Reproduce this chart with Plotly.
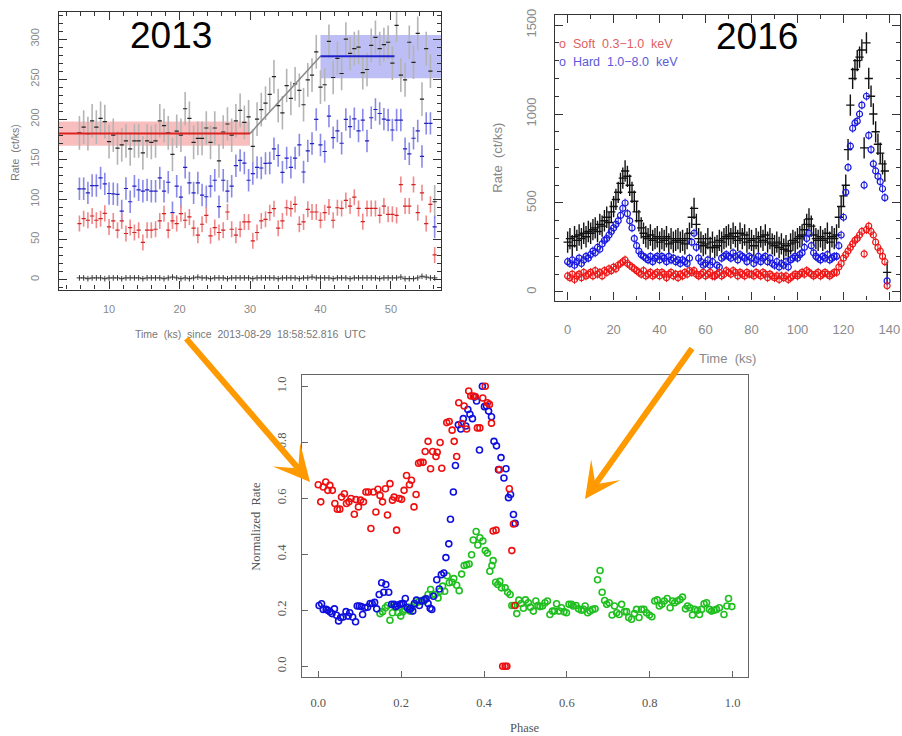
import plotly.graph_objects as go

W, H = 902, 736

# ---------------- 2013 light curve (Time in ks) ----------------
t2013_start = 5.8
t2013_bin = 0.6
total2013 = [183, 190, 182, 198, 190, 201, 197, 172, 180, 164,
             168, 173, 163, 173, 173, 158, 173, 171, 173, 198,
             192, 183, 156, 185, 180, 213, 201, 171, 176, 176,
             189, 171, 189, 148, 184, 194, 180, 198, 211, 196,
             203, 166, 200, 212, 220, 231, 253, 217, 208, 242,
             226, 244, 236, 218, 249, 255, 284, 240, 243, 297,
             252, 276, 257, 300, 282, 288, 290, 258, 262, 292,
             302, 288, 293, 296, 270, 317, 255, 249, 296, 271,
             307, 225, 288, 260, 97]
hard2013 = [113.1, 113.1, 108.1, 117.2, 117.2, 126.7, 119.3, 107.3, 106.9, 106.1,
            85.4, 113.5, 97.0, 116.4, 111.8, 110.2, 111.8, 110.2, 110.2, 126.7,
            110.2, 121.3, 83.4, 116.4, 102.8, 139.9, 120.5, 108.1, 120.5, 105.3,
            103.2, 116.4, 123.8, 90.8, 123.8, 110.2, 116.4, 142.0, 148.6, 145.3,
            123.8, 132.1, 139.9, 139.1, 144.9, 145.3, 163.0, 154.7, 133.7, 151.5,
            139.9, 151.5, 167.9, 134.1, 160.5, 169.6, 199.7, 167.9, 159.7, 203.8,
            177.0, 185.3, 170.0, 199.7, 190.6, 200.5, 185.3, 198.9, 172.9, 201.8,
            212.1, 207.1, 200.1, 198.9, 186.5, 198.9, 198.9, 163.0, 156.8, 176.2,
            185.3, 153.5, 194.8, 194.8, 65.6]
soft2013 = [69.8, 75.9, 73.9, 79.2, 73.9, 75.9, 82.5, 65.6, 73.1, 61.5,
            73.1, 57.4, 64.8, 58.6, 61.5, 46.2, 61.5, 61.5, 62.7, 73.1,
            82.1, 61.5, 73.1, 69.8, 82.1, 73.9, 78.0, 64.0, 55.3, 68.9,
            80.1, 54.5, 64.8, 58.6, 61.5, 84.2, 62.7, 55.3, 62.7, 71.8,
            71.8, 48.3, 58.6, 73.1, 75.1, 83.4, 88.3, 64.0, 73.1, 89.5,
            88.3, 93.7, 68.9, 71.8, 87.5, 84.2, 84.2, 73.9, 83.4, 90.4,
            73.9, 89.5, 88.7, 98.6, 91.6, 102.7, 88.7, 72.2, 88.7, 88.7,
            88.7, 80.1, 91.6, 81.3, 81.3, 80.0, 118.4, 91.6, 91.6, 118.4,
            83.4, 108.1, 69.8, 93.7, 30.6]
bkg2013 = [2, 2, 1, 2, 2, 2, 1, 2, 2, 2,
           1, 2, 2, 2, 2, 1, 2, 2, 2, 2,
           1, 2, 3, 2, 1, 2, 1, 2, 3, 2,
           2, 1, 2, 2, 2, 1, 2, 2, 2, 2,
           2, 1, 2, 2, 2, 2, 2, 1, 2, 2,
           2, 2, 1, 2, 2, 3, 2, 2, 2, 2,
           1, 2, 2, 2, 1, 2, 2, 2, 2, 2,
           2, 1, 2, 2, 2, 2, 3, 1, 1, 1,
           2, 4, 3, 2, 2]
err_total2013, err_hard2013, err_soft2013 = 21, 14, 10
t2013 = [round(t2013_start + t2013_bin * i, 2) for i in range(len(total2013))]

# constant / linear-rise / constant model
low_level, low_lo, low_hi, low_end = 182, 167, 197, 30
high_level, high_lo, high_hi, high_start, high_end = 278.5, 251, 305, 40, 50.5

# ---------------- 2016 light curve ----------------
t2016 = list(range(140))
total2016 = [280, 300, 260, 310, 290, 320, 300, 330, 310, 340,
             330, 350, 360, 340, 380, 370, 400, 420, 390, 450,
             480, 520, 560, 610, 640, 680, 650, 600, 560, 510,
             450, 400, 360, 330, 310, 300, 320, 290, 300, 310,
             280, 300, 290, 310, 270, 300, 280, 290, 300, 280,
             290, 270, 300, 330, 420, 470, 380, 300, 280, 260,
             270, 300, 250, 280, 250, 260, 290, 280, 300, 310,
             320, 300, 330, 310, 290, 330, 300, 320, 280, 300,
             290, 260, 300, 280, 310, 290, 320, 280, 300, 270,
             260, 280, 250, 270, 240, 260, 230, 270, 290, 280,
             300, 310, 320, 350, 380, 410, 370, 320, 300, 290,
             310, 290, 300, 330, 280, 310, 300, 320, 420, 480,
             540, 600, 800, 1050, 1200, 1250, 1300, 1320, 1360, 810,
             1400, 1200, 1100, 1000, 900, 830, 780, 720, 680, 110]
hard2016 = [170, 160, 180, 150, 170, 190, 160, 180, 200, 190,
            210, 230, 220, 250, 240, 270, 290, 300, 320, 340,
            360, 380, 400, 430, 470, 500, 440, 400, 360, 300,
            260, 230, 210, 200, 190, 180, 200, 170, 190, 200,
            180, 200, 190, 170, 200, 180, 190, 170, 180, 160,
            180, 170, 160, 190, 280, 330, 250, 190, 170, 150,
            160, 180, 150, 170, 90, 150, 140, 190, 200, 210,
            200, 190, 220, 200, 180, 210, 200, 190, 170, 200,
            190, 160, 180, 200, 170, 190, 200, 170, 190, 160,
            150, 170, 140, 160, 150, 170, 140, 180, 190, 200,
            190, 210, 220, 250, 300, 330, 260, 220, 200, 190,
            180, 200, 190, 210, 180, 190, 200, 200, 260, 320,
            420, 560, 700, 820, 920, 950, 960, 1000, 1050, 600,
            1100, 880, 800, 720, 680, 650, 620, 580, 530, 62]
soft2016 = [90, 80, 100, 70, 90, 100, 80, 110, 90, 100,
            110, 90, 120, 100, 110, 90, 120, 110, 130, 120,
            140, 130, 150, 160, 170, 180, 160, 150, 140, 130,
            120, 110, 100, 120, 90, 100, 110, 90, 100, 110,
            90, 110, 100, 80, 100, 110, 90, 100, 80, 100,
            90, 110, 100, 120, 110, 120, 100, 90, 100, 110,
            90, 100, 110, 90, 90, 100, 110, 90, 100, 120,
            110, 100, 120, 110, 90, 110, 100, 90, 110, 100,
            100, 90, 110, 100, 90, 110, 100, 80, 100, 90,
            80, 90, 70, 90, 80, 90, 70, 80, 90, 100,
            90, 100, 110, 100, 120, 110, 100, 90, 100, 110,
            90, 100, 110, 100, 90, 100, 110, 110, 140, 160,
            190, 210, 230, 250, 270, 290, 300, 320, 340, 214,
            350, 370, 340, 320, 280, 250, 230, 200, 170, 35]
err_total2016_x, err_total2016_y = 1.8, 60
err_band2016 = 25

# ---------------- folded (phase) light curve ----------------
phase_soft = [0.000, 0.006, 0.012, 0.018, 0.023, 0.028, 0.034, 0.040, 0.046, 0.052,
              0.056, 0.063, 0.068, 0.074, 0.079, 0.087, 0.091, 0.097, 0.102, 0.109,
              0.115, 0.121, 0.127, 0.133, 0.139, 0.144, 0.149, 0.155, 0.162, 0.167,
              0.173, 0.179, 0.183, 0.189, 0.195, 0.201, 0.207, 0.213, 0.220, 0.225,
              0.231, 0.236, 0.242, 0.247, 0.253, 0.258, 0.265, 0.271, 0.276, 0.284,
              0.287, 0.294, 0.298, 0.310, 0.316, 0.323, 0.328, 0.334, 0.339, 0.346,
              0.352, 0.358, 0.363, 0.368, 0.374, 0.379, 0.384, 0.390, 0.397, 0.403,
              0.408, 0.413, 0.418, 0.422, 0.429, 0.437, 0.445, 0.451, 0.455, 0.461,
              0.467, 0.471, 0.475]
rate_soft = [0.648, 0.587, 0.640, 0.658, 0.628, 0.646, 0.628, 0.581, 0.561, 0.561,
             0.604, 0.616, 0.581, 0.587, 0.599, 0.543, 0.595, 0.569, 0.593, 0.587,
             0.622, 0.622, 0.492, 0.622, 0.551, 0.632, 0.610, 0.587, 0.634, 0.540,
             0.652, 0.593, 0.604, 0.486, 0.599, 0.596, 0.628, 0.681, 0.648, 0.664,
             0.569, 0.613, 0.725, 0.728, 0.728, 0.767, 0.803, 0.705, 0.767, 0.749,
             0.764, 0.799, 0.707, 0.870, 0.874, 0.843, 0.803, 0.749, 0.941, 0.867,
             0.929, 0.847, 0.983, 0.965, 0.965, 0.963, 0.851, 0.851, 0.958, 1.000,
             0.941, 0.935, 0.868, 0.483, 0.486, 0.702, 0.000, 0.000, 0.000, 0.634,
             0.413, 0.508, 0.217]
phase_hard = [0.002, 0.008, 0.012, 0.019, 0.023, 0.028, 0.033, 0.039, 0.044, 0.049,
              0.054, 0.060, 0.067, 0.072, 0.076, 0.083, 0.090, 0.094, 0.099, 0.104,
              0.107, 0.113, 0.119, 0.125, 0.130, 0.136, 0.141, 0.147, 0.153, 0.158,
              0.163, 0.170, 0.177, 0.183, 0.187, 0.191, 0.197, 0.201, 0.205, 0.210,
              0.215, 0.220, 0.223, 0.228, 0.232, 0.237, 0.244, 0.250, 0.256, 0.260,
              0.265, 0.270, 0.274, 0.278, 0.286, 0.292, 0.297, 0.303, 0.308, 0.315,
              0.319, 0.326, 0.331, 0.338, 0.344, 0.350, 0.356, 0.361, 0.366, 0.372,
              0.377, 0.382, 0.389, 0.396, 0.401, 0.406, 0.411, 0.418, 0.424, 0.430,
              0.435, 0.441, 0.448, 0.453, 0.459, 0.464, 0.471, 0.475]
rate_hard = [0.217, 0.223, 0.203, 0.203, 0.200, 0.195, 0.188, 0.205, 0.182, 0.162,
             0.174, 0.176, 0.195, 0.179, 0.191, 0.176, 0.159, 0.215, 0.215, 0.213,
             0.185, 0.209, 0.211, 0.224, 0.224, 0.228, 0.205, 0.256, 0.298, 0.264,
             0.292, 0.264, 0.221, 0.221, 0.213, 0.217, 0.221, 0.223, 0.224, 0.242,
             0.209, 0.203, 0.207, 0.197, 0.224, 0.236, 0.217, 0.233, 0.237, 0.241,
             0.224, 0.207, 0.203, 0.250, 0.309, 0.276, 0.327, 0.333, 0.388, 0.437,
             0.525, 0.622, 0.717, 0.862, 0.847, 0.884, 0.858, 0.917, 0.900, 0.884,
             0.961, 0.947, 0.772, 1.000, 0.927, 0.929, 0.911, 0.891, 0.803, 0.787,
             0.702, 0.745, 0.672, 0.705, 0.602, 0.613, 0.542, 0.510]
phase_2016 = [0.149, 0.155, 0.162, 0.167, 0.173, 0.179, 0.185, 0.193, 0.199, 0.204,
              0.209, 0.216, 0.221, 0.226, 0.233, 0.237, 0.242, 0.249, 0.255, 0.260,
              0.265, 0.271, 0.276, 0.282, 0.289, 0.294, 0.300, 0.305, 0.311, 0.316,
              0.323, 0.327, 0.334, 0.340, 0.346, 0.352, 0.358, 0.364, 0.370, 0.374,
              0.381, 0.385, 0.390, 0.397, 0.403, 0.408, 0.414, 0.419, 0.422, 0.428,
              0.433, 0.438, 0.442, 0.451, 0.457, 0.463, 0.467, 0.472, 0.479, 0.484,
              0.490, 0.495, 0.500, 0.507, 0.512, 0.519, 0.525, 0.530, 0.535, 0.541,
              0.547, 0.553, 0.559, 0.565, 0.570, 0.575, 0.581, 0.587, 0.593, 0.599,
              0.605, 0.611, 0.615, 0.622, 0.628, 0.635, 0.640, 0.644, 0.650, 0.656,
              0.662, 0.668, 0.674, 0.680, 0.685, 0.691, 0.696, 0.702, 0.709, 0.715,
              0.720, 0.726, 0.732, 0.739, 0.744, 0.749, 0.756, 0.763, 0.768, 0.774,
              0.780, 0.786, 0.792, 0.799, 0.805, 0.812, 0.818, 0.823, 0.829, 0.835,
              0.842, 0.849, 0.855, 0.860, 0.866, 0.873, 0.879, 0.886, 0.891, 0.897,
              0.903, 0.908, 0.915, 0.920, 0.925, 0.931, 0.937, 0.944, 0.949, 0.955,
              0.961, 0.968, 0.979, 0.986, 0.990, 0.998]
rate_2016 = [0.188, 0.195, 0.209, 0.217, 0.164, 0.191, 0.213, 0.191, 0.179, 0.195,
             0.203, 0.211, 0.197, 0.211, 0.221, 0.235, 0.230, 0.235, 0.233, 0.242,
             0.256, 0.274, 0.256, 0.256, 0.244, 0.268, 0.286, 0.268, 0.323, 0.298,
             0.300, 0.313, 0.289, 0.270, 0.329, 0.360, 0.362, 0.365, 0.398, 0.451,
             0.481, 0.433, 0.459, 0.447, 0.413, 0.404, 0.339, 0.360, 0.377, 0.300,
             0.292, 0.303, 0.280, 0.280, 0.264, 0.256, 0.217, 0.217, 0.188, 0.236,
             0.224, 0.207, 0.237, 0.227, 0.211, 0.197, 0.233, 0.217, 0.213, 0.215,
             0.227, 0.233, 0.185, 0.197, 0.197, 0.223, 0.197, 0.209, 0.195, 0.191,
             0.221, 0.221, 0.215, 0.217, 0.205, 0.200, 0.203, 0.215, 0.191, 0.197,
             0.203, 0.205, 0.309, 0.342, 0.264, 0.235, 0.221, 0.227, 0.183, 0.215,
             0.191, 0.185, 0.221, 0.195, 0.195, 0.174, 0.168, 0.188, 0.203, 0.174,
             0.203, 0.203, 0.191, 0.183, 0.177, 0.233, 0.237, 0.215, 0.221, 0.233,
             0.242, 0.209, 0.233, 0.227, 0.233, 0.238, 0.247, 0.205, 0.215, 0.209,
             0.183, 0.203, 0.200, 0.185, 0.203, 0.223, 0.227, 0.203, 0.197, 0.200,
             0.203, 0.209, 0.185, 0.215, 0.242, 0.213]

# ---------------- colours ----------------
BLACK = "#111111"
ORANGE = "#FF9900"

fig = go.Figure()


def tick_marker(col):
    return dict(symbol="line-ew-open", size=3, color=col, line=dict(width=1.2, color=col))


def ring(col, size, width):
    return dict(symbol="circle-open", size=size, color=col, line=dict(width=width, color=col))


# ---- 2013 panel ----
fig.add_trace(go.Scatter(x=t2013, y=total2013, mode="markers", xaxis="x", yaxis="y",
                         marker=tick_marker("#222222"),
                         error_y=dict(type="constant", value=err_total2013, color="#b4b4b4", thickness=1.6, width=0)))
fig.add_trace(go.Scatter(x=t2013, y=hard2013, mode="markers", xaxis="x", yaxis="y",
                         marker=tick_marker("#2020c0"),
                         error_y=dict(type="constant", value=err_hard2013, color="#8a8ae8", thickness=1.6, width=0)))
fig.add_trace(go.Scatter(x=t2013, y=soft2013, mode="markers", xaxis="x", yaxis="y",
                         marker=tick_marker("#d02020"),
                         error_y=dict(type="constant", value=err_soft2013, color="#f08a8a", thickness=1.6, width=0)))
fig.add_trace(go.Scatter(x=t2013, y=bkg2013, mode="markers", xaxis="x", yaxis="y",
                         marker=dict(symbol="cross-thin-open", size=4, color="#333333",
                                     line=dict(width=1, color="#333333"))))
# model lines
fig.add_trace(go.Scatter(x=[2.9, low_end], y=[low_level, low_level], mode="lines", xaxis="x", yaxis="y",
                         line=dict(color="#dd2222", width=2)))
fig.add_trace(go.Scatter(x=[low_end, high_start], y=[low_level, high_level], mode="lines", xaxis="x", yaxis="y",
                         line=dict(color="#888888", width=1.5)))
fig.add_trace(go.Scatter(x=[high_start, high_end], y=[high_level, high_level], mode="lines", xaxis="x", yaxis="y",
                         line=dict(color="#2222cc", width=2)))

# ---- 2016 panel ----
fig.add_trace(go.Scatter(x=t2016, y=total2016, mode="markers", xaxis="x2", yaxis="y2",
                         marker=dict(size=1, color=BLACK),
                         error_x=dict(type="constant", value=err_total2016_x, color=BLACK, thickness=1.4, width=0),
                         error_y=dict(type="constant", value=err_total2016_y, color=BLACK, thickness=1.4, width=0)))
fig.add_trace(go.Scatter(x=t2016, y=hard2016, mode="markers", xaxis="x2", yaxis="y2",
                         marker=ring("#1818e0", 6, 1.2),
                         error_y=dict(type="constant", value=err_band2016, color="#3030e0", thickness=1, width=0)))
fig.add_trace(go.Scatter(x=t2016, y=soft2016, mode="markers", xaxis="x2", yaxis="y2",
                         marker=ring("#ee1818", 6, 1.2),
                         error_y=dict(type="constant", value=err_band2016, color="#ee2020", thickness=1, width=0)))

# ---- phase panel ----
for ph, rt, col in [(phase_2016, rate_2016, "#1fbf1f"), (phase_hard, rate_hard, "#1010dd"),
                    (phase_soft, rate_soft, "#ee1010")]:
    fig.add_trace(go.Scatter(x=ph, y=rt, mode="markers", xaxis="x3", yaxis="y3",
                             marker=ring(col, 6, 1.6)))


def px(x):
    return x / W


def py(y):
    return 1 - y / H


SANS = "Liberation Sans, Arial, sans-serif"
SERIF = "Liberation Serif, Times New Roman, serif"


def axis(domain, rng, dtick, minor_dtick, color, fsize, family, standoff, tickangle=0,
         linecolor="#333", lw=1.4, ticklen=8, fmt=None, minor=True, mirror="allticks"):
    d = dict(domain=domain, range=rng, dtick=dtick, showgrid=False, zeroline=False,
             showline=True, linecolor=linecolor, linewidth=lw, mirror=mirror,
             ticks="inside", ticklen=ticklen, tickcolor=linecolor, tickwidth=1,
             tickfont=dict(family=family, size=fsize, color=color),
             tickangle=tickangle, ticklabelstandoff=standoff)
    if fmt:
        d["tickformat"] = fmt
    if minor:
        d["minor"] = dict(dtick=minor_dtick, ticks="inside", ticklen=ticklen / 2,
                          tickcolor=linecolor, tickwidth=1, showgrid=False)
    return d


layout = dict(
    width=W, height=H, margin=dict(l=0, r=0, t=0, b=0), autosize=False,
    paper_bgcolor="white", plot_bgcolor="white", showlegend=False,
    xaxis=axis([px(59), px(441)], [2.9, 57.1], 10, 2, "#8a8a8a", 11, SANS, 9),
    yaxis=axis([py(286), py(6)], [-12.7, 333.8], 50, 10, "#8a8a8a", 11, SANS, 14, tickangle=-90),
    xaxis2=axis([px(555), px(900)], [-5.5, 144.6], 20, 10, "#8a8a8a", 13, SANS, 17),
    yaxis2=axis([py(297), py(9)], [-48.5, 1557], 500, 100, "#8a8a8a", 13, SANS, 13, tickangle=-90),
    xaxis3=axis([px(301.7), px(748.3)], [-0.040, 1.0377], 0.2, 0.1, "#555555", 12.5, SERIF, 14,
                linecolor="#666666", lw=1.2, ticklen=6, fmt=".1f", minor=False, mirror=True),
    yaxis3=axis([py(676.7), py(372.3)], [-0.039, 1.039], 0.2, 0.1, "#555555", 12.5, SERIF, 10,
                tickangle=-90, linecolor="#666666", lw=1.2, ticklen=6, fmt=".1f", minor=False, mirror=True),
)
for a, b in [("xaxis", "y"), ("yaxis", "x"), ("xaxis2", "y2"), ("yaxis2", "x2"),
             ("xaxis3", "y3"), ("yaxis3", "x3")]:
    layout[a]["anchor"] = b

shapes = [
    dict(type="rect", xref="x", yref="y", x0=2.9, x1=low_end, y0=low_lo, y1=low_hi,
         fillcolor="rgba(240,110,110,0.45)", line=dict(width=0), layer="below"),
    dict(type="rect", xref="x", yref="y", x0=high_start, x1=57.1, y0=high_lo, y1=high_hi,
         fillcolor="rgba(110,110,235,0.45)", line=dict(width=0), layer="below"),
]


def ann(text, x, y, size, color, family=SANS, angle=0, xanchor="center"):
    return dict(text=text, x=px(x), y=py(y), xref="paper", yref="paper", showarrow=False,
                font=dict(family=family, size=size, color=color), textangle=angle,
                xanchor=xanchor, yanchor="middle")


annotations = [
    ann("2013", 171, 30, 37, "black"),
    ann("2016", 757, 31, 37, "black"),
    ann("Rate  (ct/ks)", 15, 147, 10.5, "#777777", angle=-90),
    ann("Time  (ks)  since  2013-08-29  18:58:52.816  UTC", 250, 331, 10.5, "#777777"),
    ann("Rate  (ct/ks)", 498, 153, 13, "#888888", angle=-90),
    ann("Time  (ks)", 727, 355, 13, "#888888"),
    ann("o  Soft  0.3\u22121.0  keV", 557, 38, 12.5, "#e06060", xanchor="left"),
    ann("o  Hard  1.0\u22128.0  keV", 557, 56, 12.5, "#5a5ad8", xanchor="left"),
    ann("Normalized  Rate", 256, 525, 12.5, "#555555", family=SERIF, angle=-90),
    ann("Phase", 525, 728, 12.5, "#555555", family=SERIF),
    # orange arrows
    dict(x=px(310), y=py(480), xref="paper", yref="paper", ax=-125, ay=-145,
         axref="pixel", ayref="pixel", showarrow=True, arrowhead=3, arrowsize=1,
         arrowwidth=6, arrowcolor=ORANGE, text="", standoff=0),
    dict(x=px(585), y=py(497), xref="paper", yref="paper", ax=108, ay=-152,
         axref="pixel", ayref="pixel", showarrow=True, arrowhead=3, arrowsize=1,
         arrowwidth=6, arrowcolor=ORANGE, text="", standoff=0),
]

layout["shapes"] = shapes
layout["annotations"] = annotations
fig.update_layout(**layout)

fig.write_html("out.html", config={"displayModeBar": False},
               post_script="document.body.style.margin='0';document.body.style.padding='0';")
